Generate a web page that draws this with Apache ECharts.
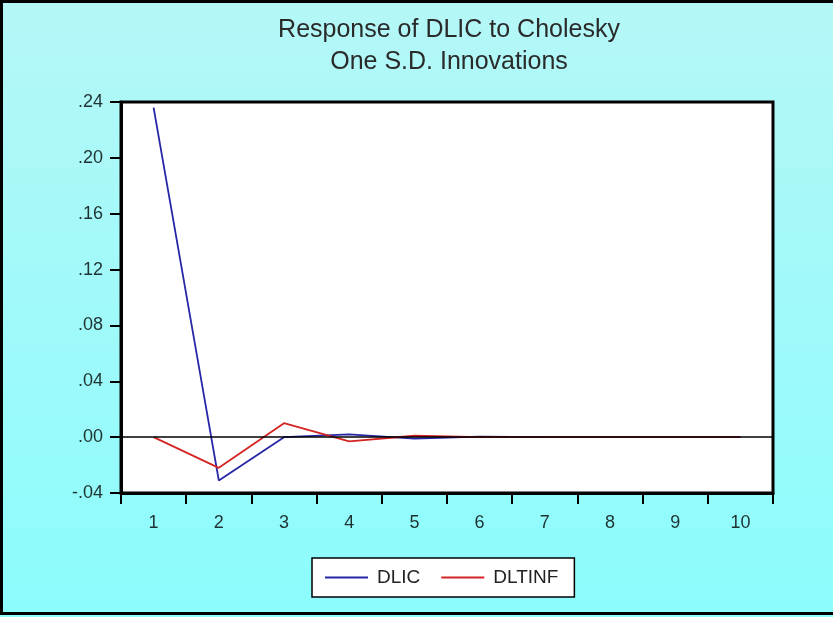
<!DOCTYPE html>
<html><head><meta charset="utf-8">
<script src="https://cdn.jsdelivr.net/npm/echarts@6/dist/echarts.min.js"></script>
<style>html,body{margin:0;padding:0;}#c{width:833px;height:617px;}</style>
</head><body><div id="c"></div>
<script>
const periods = ['1','2','3','4','5','6','7','8','9','10'];
const dlic = [0.236, -0.031, 0.000, 0.002, -0.001, 0.0003, 0, 0, 0, 0];
const dltinf = [0.000, -0.022, 0.010, -0.003, 0.001, 0.000, 0, 0, 0, 0];
const titleLines = ['Response of DLIC to Cholesky', 'One S.D. Innovations'];

const chart = echarts.init(document.getElementById('c'));
const fmt = v => {
  const s = Math.abs(v).toFixed(2).replace(/^0/, '');
  return (v < -1e-9 ? '-' : '') + s;
};
const labelColor = '#1e3232';
const blue = '#2626a6', red = '#d42424';
chart.setOption({
  backgroundColor: {type:'linear', x:0, y:0, x2:0, y2:1, colorStops:[{offset:0,color:'#b5f7f7'},{offset:1,color:'#8cfcfc'}]},
  animation: false,
  title: {
    text: titleLines.join('\n'), left: 444, top: 9, textAlign: 'center',
    textStyle: {fontFamily:'Liberation Sans', fontSize: 25, fontWeight:'normal', color:'#2a2a2a', lineHeight: 32}
  },
  legend: {
    top: 558, left: 312, itemWidth: 43, itemHeight: 2, itemGap: 21,
    backgroundColor: '#fff', borderColor: '#000', borderWidth: 1.5,
    padding: [10, 16, 10, 13],
    data: [
      {name:'DLIC', icon:'rect', itemStyle:{color:blue}},
      {name:'DLTINF', icon:'rect', itemStyle:{color:red}}
    ],
    itemStyle: {borderWidth:0},
    textStyle: {fontFamily:'Liberation Sans', fontSize: 19, color:'#222', padding:[0,0,0,4]}
  },
  graphic: [{type:'rect', shape:{x:1.5,y:1.5,width:840,height:612}, style:{fill:'none', stroke:'#000', lineWidth:3}, silent:true}],
  grid: {left:121, right:60, top:102, bottom:124, show:true, backgroundColor:'#fff', borderColor:'#000', borderWidth:3},
  xAxis: {
    type:'category', data: periods, boundaryGap: true,
    axisLine:{onZero:false, lineStyle:{color:'#000', width:3}},
    axisTick:{show:true, length:11, inside:false, lineStyle:{color:'#000', width:2}},
    axisLabel:{fontFamily:'Liberation Sans', fontSize:18, color:labelColor, margin:21},
    splitLine:{show:false}
  },
  yAxis: {
    type:'value', min:-0.04, max:0.24, interval:0.04,
    axisLine:{show:true, lineStyle:{color:'#000', width:3}},
    axisTick:{show:true, length:11, lineStyle:{color:'#000', width:2}},
    axisLabel:{fontFamily:'Liberation Sans', fontSize:18, color:labelColor, margin:18, formatter: fmt},
    splitLine:{show:false}
  },
  series: [
    {name:'DLIC', type:'line', data: dlic, symbol:'none', lineStyle:{color:blue, width:1.8}, itemStyle:{color:blue},
     markLine:{silent:true, symbol:'none', label:{show:false}, lineStyle:{color:'#000', width:1.5, type:'solid'}, data:[{yAxis:0}]}, z:3},
    {name:'DLTINF', type:'line', data: dltinf, symbol:'none', lineStyle:{color:red, width:1.8}, itemStyle:{color:red}, z:4}
  ]
});
</script></body></html>
